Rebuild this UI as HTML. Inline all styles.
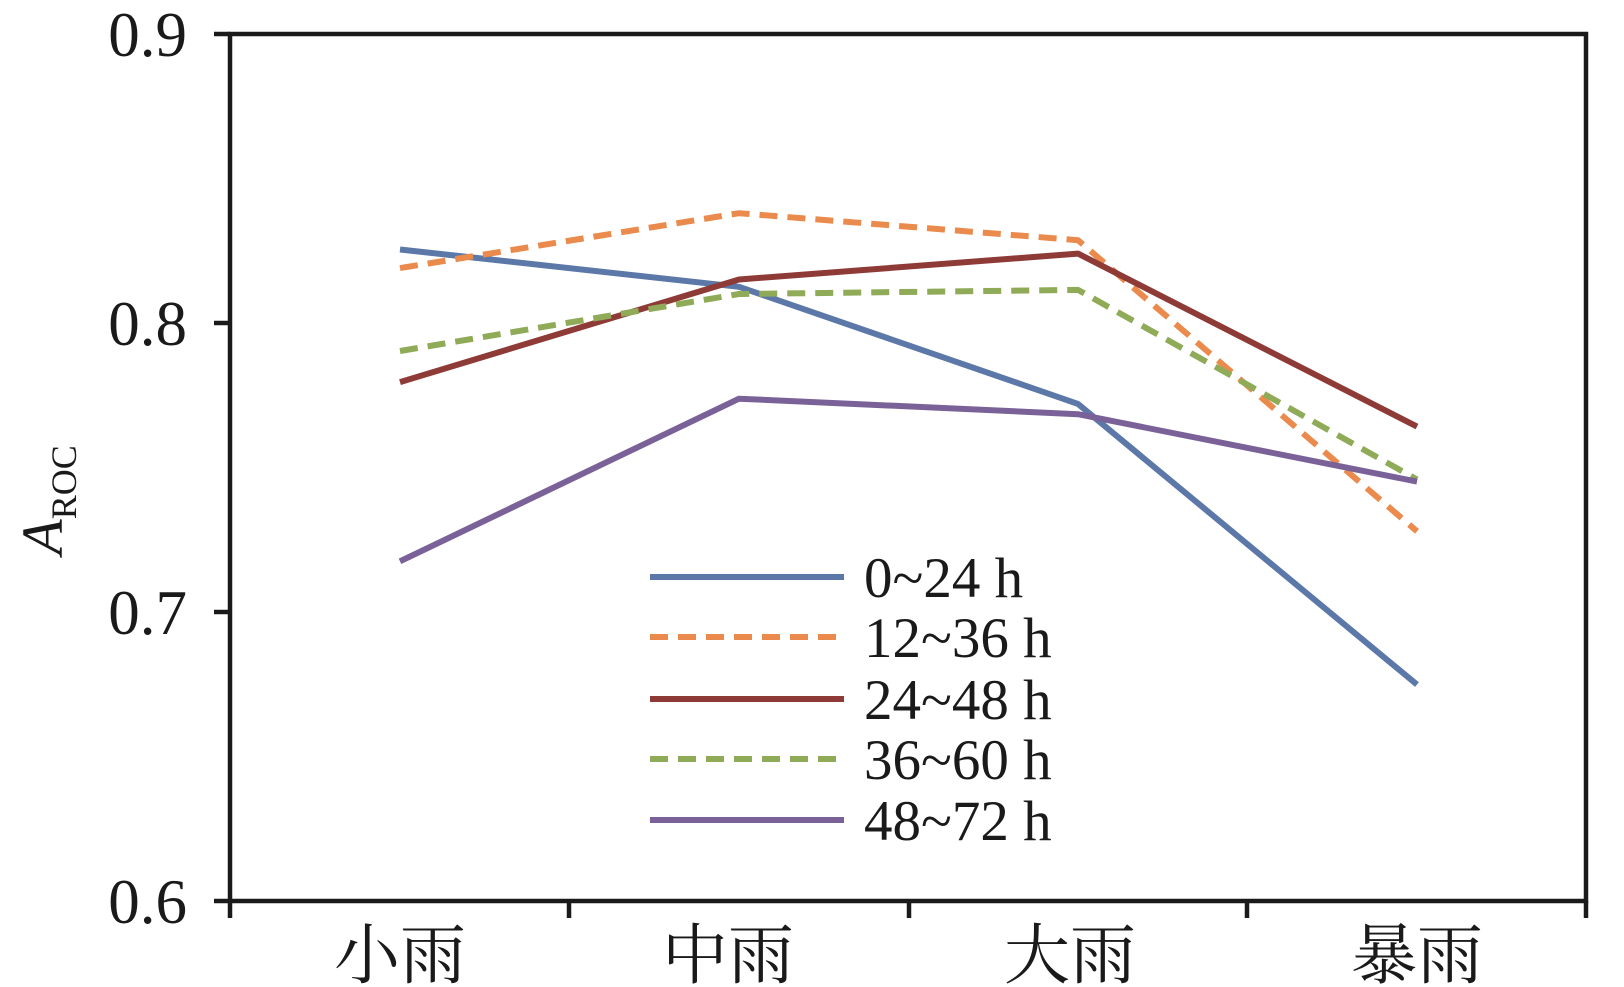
<!DOCTYPE html>
<html><head><meta charset="utf-8"><style>body{margin:0;background:#fff}svg{display:block}</style></head>
<body>
<svg width="1624" height="987" viewBox="0 0 1624 987" xmlns="http://www.w3.org/2000/svg" font-family="'Liberation Serif','Noto Serif CJK SC',serif">
<rect width="1624" height="987" fill="#fff"/>
<g stroke="#1a1a1a" stroke-width="4.5" fill="none">
<rect x="230" y="34" width="1356" height="867"/>
<line x1="214" y1="34" x2="230" y2="34"/>
<line x1="214" y1="323" x2="230" y2="323"/>
<line x1="214" y1="612" x2="230" y2="612"/>
<line x1="214" y1="901" x2="230" y2="901"/>
<line x1="230" y1="901" x2="230" y2="918"/>
<line x1="569" y1="901" x2="569" y2="918"/>
<line x1="909" y1="901" x2="909" y2="918"/>
<line x1="1247" y1="901" x2="1247" y2="918"/>
<line x1="1586" y1="901" x2="1586" y2="918"/>
</g>
<g font-size="63" text-anchor="end" fill="#1a1a1a">
<text x="187" y="56">0.9</text>
<text x="187" y="345">0.8</text>
<text x="187" y="634">0.7</text>
<text x="187" y="923">0.6</text>
</g>
<g font-size="66" text-anchor="middle" fill="#1a1a1a">
<text x="400" y="978">小雨</text>
<text x="728" y="978">中雨</text>
<text x="1070" y="978">大雨</text>
<text x="1417" y="978">暴雨</text>
</g>
<text transform="translate(62,500) rotate(-90)" font-size="58" text-anchor="middle" fill="#1a1a1a"><tspan font-style="italic">A</tspan><tspan font-size="36" dy="14">ROC</tspan></text>
<g fill="none" stroke-width="6" stroke-linejoin="round">
<polyline stroke="#5b78a8" points="400,249.5 739,286.8 1078,403.9 1417,684.6"/>
<polyline stroke="#ea8a4c" stroke-dasharray="18,10" points="400,268.1 739,213.2 1078,240.2 1417,531.3"/>
<polyline stroke="#8e3b37" points="400,382.1 739,279.5 1078,253.6 1417,426.6"/>
<polyline stroke="#8fab57" stroke-dasharray="18,10" points="400,351 739,294 1078,289.9 1417,479.5"/>
<polyline stroke="#7a6299" points="400,561.3 739,398.7 1078,414.2 1417,481.6"/>
</g>
<g stroke-width="6">
<line x1="650" y1="577" x2="844" y2="577" stroke="#5b78a8"/>
<line x1="650" y1="637" x2="844" y2="637" stroke="#ea8a4c" stroke-dasharray="18,10"/>
<line x1="650" y1="699" x2="844" y2="699" stroke="#8e3b37"/>
<line x1="650" y1="759" x2="844" y2="759" stroke="#8fab57" stroke-dasharray="18,10"/>
<line x1="650" y1="820" x2="844" y2="820" stroke="#7a6299"/>
</g>
<g font-size="57" fill="#1a1a1a">
<text x="864" y="597">0~24 h</text>
<text x="864" y="657">12~36 h</text>
<text x="864" y="719">24~48 h</text>
<text x="864" y="779">36~60 h</text>
<text x="864" y="840">48~72 h</text>
</g>
</svg>
</body></html>
